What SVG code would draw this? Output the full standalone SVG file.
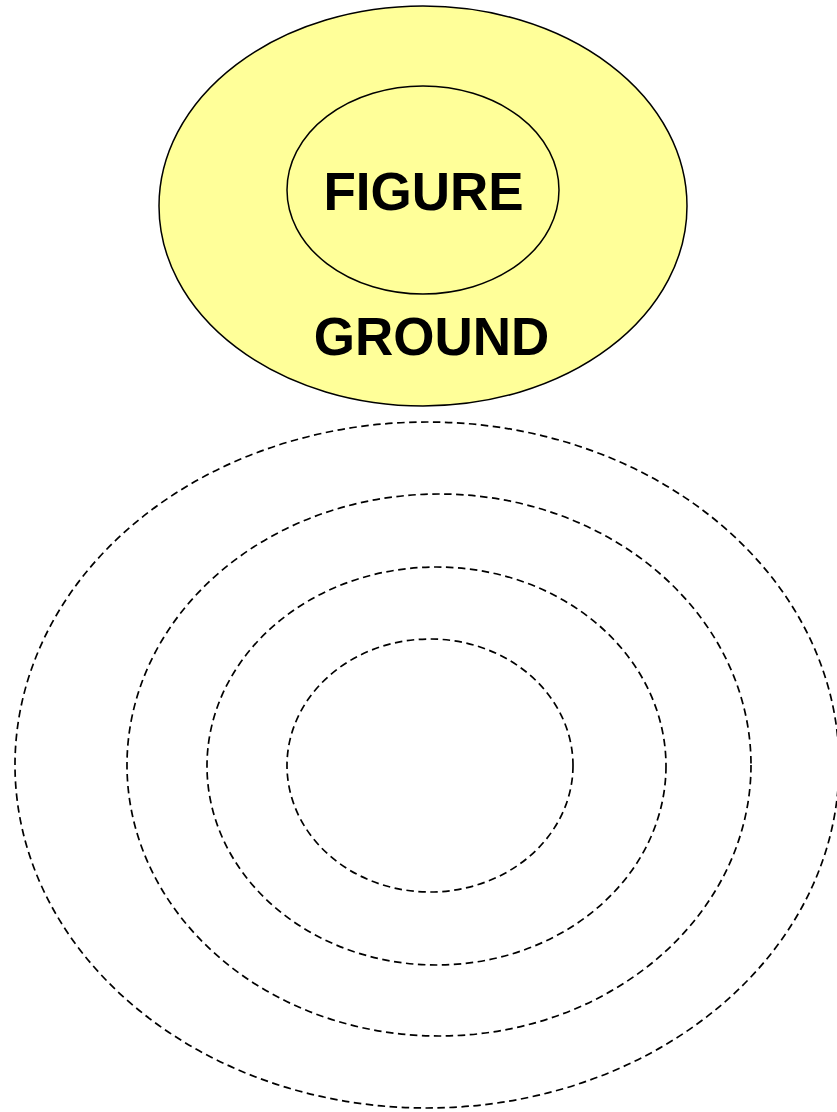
<svg xmlns="http://www.w3.org/2000/svg" width="837" height="1112" viewBox="0 0 837 1112">
<style>
.lbl{font-family:"Liberation Sans",Arial,sans-serif;font-weight:bold;font-size:53px;fill:#000;text-anchor:middle}
.solid{fill:#FFFF99;stroke:#000;stroke-width:1.5}
.dash{fill:none;stroke:#000;stroke-width:1.7;stroke-dasharray:7.5,4.5}
</style>
<rect width="837" height="1112" fill="#fff"/>
<g id="ground">
<ellipse class="solid" cx="423" cy="206" rx="264" ry="200"/>
<text class="lbl" x="431.5" y="355">GROUND</text>
</g>
<g id="figure">
<ellipse class="solid" cx="423" cy="190" rx="136" ry="104"/>
<text class="lbl" x="423.5" y="210">FIGURE</text>
</g>
<g id="rings">
<ellipse class="dash" cx="427" cy="765" rx="412" ry="343"/>
<ellipse class="dash" cx="439" cy="765" rx="312" ry="271"/>
<ellipse class="dash" cx="436.5" cy="766" rx="229.5" ry="199"/>
<ellipse class="dash" cx="430" cy="765.5" rx="143" ry="126.5"/>
</g>
</svg>
